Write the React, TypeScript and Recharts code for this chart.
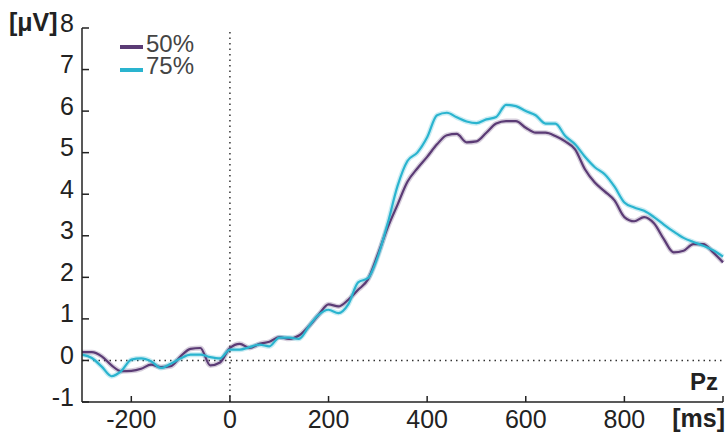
import React from "react";
import { LineChart, Line, XAxis, YAxis, ReferenceLine, Legend, Customized } from "recharts";

const times = [
  -300, -280, -260, -240, -220, -200, -180, -160, -140, -120, -100, -80, -60, -40, -20,
  0, 20, 40, 60, 80, 100, 120, 140, 160, 180, 200, 220, 240, 260, 280,
  300, 320, 340, 360, 380, 400, 420, 440, 460, 480, 500, 520, 540, 560, 580,
  600, 620, 640, 660, 680, 700, 720, 740, 760, 780, 800, 820, 840, 860, 880,
  900, 920, 940, 960, 980, 1000,
];

const p50 = [
  0.2, 0.2, 0.1, -0.12, -0.26, -0.25, -0.2, -0.1, -0.16, -0.14, 0.1, 0.28, 0.3, -0.12, -0.05,
  0.3, 0.4, 0.3, 0.4, 0.45, 0.56, 0.52, 0.6, 0.82, 1.1, 1.35, 1.3, 1.46, 1.7, 1.95,
  2.55, 3.2, 3.75, 4.3, 4.62, 4.9, 5.2, 5.42, 5.45, 5.25, 5.27, 5.48, 5.7, 5.76, 5.76,
  5.6, 5.48, 5.48, 5.4, 5.27, 5.08, 4.6, 4.28, 4.07, 3.85, 3.45, 3.35, 3.45, 3.3, 2.92,
  2.6, 2.64, 2.8, 2.8, 2.6, 2.36,
];

const p75 = [
  0.14, 0.06, -0.15, -0.38, -0.25, 0.02, 0.05, -0.02, -0.18, -0.08, 0.05, 0.14, 0.14, 0.08, 0.05,
  0.26, 0.26, 0.32, 0.38, 0.34, 0.55, 0.55, 0.52, 0.82, 1.1, 1.22, 1.14, 1.35, 1.88, 1.98,
  2.5, 3.3, 4.2, 4.8, 5.0, 5.37, 5.9, 5.96, 5.85, 5.75, 5.71, 5.8, 5.86, 6.15, 6.12,
  6.0, 5.9, 5.7, 5.7, 5.4, 5.2, 4.9, 4.65, 4.48, 4.18, 3.8, 3.68, 3.6, 3.45, 3.27,
  3.1, 2.95, 2.85, 2.76, 2.65, 2.5,
];

const xTicks = [-200, 0, 200, 400, 600, 800, 1000];
const yTicks = [-1, 0, 1, 2, 3, 4, 5, 6, 7, 8];
const seriesNames = ["50%", "75%"];

const data = times.map((t, i) => ({ t, a: p50[i], b: p75[i] }));

const PURPLE = "#5b3b75";
const TEAL = "#2ab4cf";
const AXIS = "#222";
const NARROW = "'Liberation Sans Narrow', 'Arial Narrow', 'Liberation Sans', Arial, sans-serif";
const SANS = "'Liberation Sans', Arial, sans-serif";

const YTick = (props: any) => {
  const { x, y, payload } = props;
  return (
    <g>
      <line x1={x} x2={x + 7} y1={y} y2={y} stroke={AXIS} strokeWidth={1.5} />
      <text x={x - 8} y={y + 3.5} textAnchor="end" fontFamily={NARROW} fontSize={25} fill={AXIS}>
        {payload.value}
      </text>
    </g>
  );
};

const XTick = (props: any) => {
  const { x, y, payload } = props;
  return (
    <g>
      <line x1={x} x2={x} y1={y} y2={y - 6} stroke={AXIS} strokeWidth={1.5} />
      {payload.value !== 1000 && (
        <text x={x} y={y + 25.5} textAnchor="middle" fontFamily={NARROW} fontSize={25} fill={AXIS}>
          {payload.value}
        </text>
      )}
    </g>
  );
};

const renderLegend = (props: any) => {
  const items = (props.payload || []).filter((p: any) => seriesNames.includes(p.value));
  return (
    <svg width={100} height={60} style={{ display: "block", overflow: "visible" }}>
      {items.map((p: any, i: number) => (
        <g key={p.value}>
          <line x1={2} x2={25} y1={17 + i * 23} y2={17 + i * 23} stroke={p.color} strokeWidth={4} />
          <text x={28} y={22 + i * 22} fontFamily={SANS} fontSize={24} fill="#444">
            {p.value}
          </text>
        </g>
      ))}
    </svg>
  );
};

const Labels = () => (
  <g>
    <text x={9} y={31} fontFamily={SANS} fontWeight="bold" fontSize={25} fill={AXIS}>
      [μV]
    </text>
    <text x={725} y={427} textAnchor="end" fontFamily={SANS} fontWeight="bold" fontSize={25} fill={AXIS}>
      [ms]
    </text>
    <text x={718} y={390} textAnchor="end" fontFamily={SANS} fontWeight="bold" fontSize={24} fill={AXIS}>
      Pz
    </text>
  </g>
);

export default function App() {
  return (
    <div style={{ position: "absolute", left: 0, top: 0, background: "#fff" }}>
      <LineChart width={728} height={433} data={data} margin={{ top: 28, right: 5, bottom: 0, left: 0 }}>
        <XAxis
          dataKey="t"
          type="number"
          domain={[-300, 1000]}
          ticks={xTicks}
          height={31}
          tickSize={0}
          tickMargin={0}
          tickLine={false}
          axisLine={{ stroke: AXIS, strokeWidth: 1.5 }}
          tick={<XTick />}
          interval={0}
        />
        <YAxis
          type="number"
          domain={[-1, 8]}
          ticks={yTicks}
          width={82}
          tickSize={0}
          tickMargin={0}
          tickLine={false}
          axisLine={{ stroke: AXIS, strokeWidth: 1.5 }}
          tick={<YTick />}
          interval={0}
          allowDataOverflow
        />
        <ReferenceLine x={0} stroke="#333" strokeWidth={1.5} strokeDasharray="1.5 4" />
        <ReferenceLine y={0} stroke="#333" strokeWidth={1.5} strokeDasharray="1.5 4" />
        <Line dataKey="a" name="50% band" type="monotone" stroke={PURPLE} strokeOpacity={0.25} strokeWidth={5} dot={false} legendType="none" isAnimationActive={false} />
        <Line dataKey="b" name="75% band" type="monotone" stroke={TEAL} strokeOpacity={0.25} strokeWidth={5} dot={false} legendType="none" isAnimationActive={false} />
        <Line dataKey="a" name="50%" type="monotone" stroke={PURPLE} strokeWidth={2.2} dot={false} isAnimationActive={false} />
        <Line dataKey="b" name="75%" type="monotone" stroke={TEAL} strokeWidth={2.2} dot={false} isAnimationActive={false} />
        <Legend
          layout="vertical"
          align="center"
          verticalAlign="middle"
          content={renderLegend}
          wrapperStyle={{ position: "absolute", left: 118, top: 30, width: 100, height: 60 }}
        />
        <Customized component={Labels} />
      </LineChart>
    </div>
  );
}
